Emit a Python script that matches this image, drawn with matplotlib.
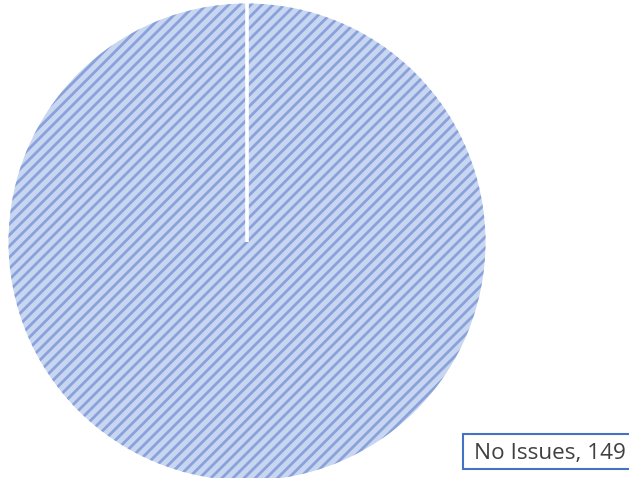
import matplotlib
matplotlib.use('Agg')
import numpy as np
import matplotlib.pyplot as plt
from matplotlib.patches import Rectangle

labels = ['No Issues']
values = [149]

plt.rcParams['hatch.linewidth'] = 2.0
plt.rcParams['font.family'] = ['Open Sans', 'DejaVu Sans']

W, H = 629, 478
fig = plt.figure(figsize=(W / 100, H / 100), dpi=100)
ax = fig.add_axes([0, 0, 1, 1])

# pie center and radius in pixels
cx, cy, r = 247, 242, 238.5

wedges, _ = ax.pie(values, startangle=90, counterclock=False, radius=1,
                   colors=['#c8d6f2'],
                   wedgeprops=dict(edgecolor='#8aa2da', linewidth=0, hatch='///'))

# a single full wedge has no radial edge, draw the white border from the center
w = wedges[0]
ang = np.deg2rad(w.theta2)
ax.plot([w.center[0], w.center[0] + w.r * np.cos(ang)],
        [w.center[1], w.center[1] + w.r * np.sin(ang)],
        color='white', linewidth=2.6, solid_capstyle='butt')

ax.set_xlim(-cx / r, (W - cx) / r)
ax.set_ylim(-(H - cy) / r, cy / r)
ax.set_aspect('equal')
ax.axis('off')

# data label box (runs off the right edge in the original)
fig.patches.append(Rectangle((463 / W, 1 - 469 / H), 200 / W, 35 / H,
                             transform=fig.transFigure, facecolor='white',
                             edgecolor='#4472c4', linewidth=1.5))
fig.text(474 / W, 1 - 453 / H, f'{labels[0]}, {values[0]}',
         fontsize=16.2, color='#404040', va='center', ha='left')

fig.savefig('out.png', dpi=100)
